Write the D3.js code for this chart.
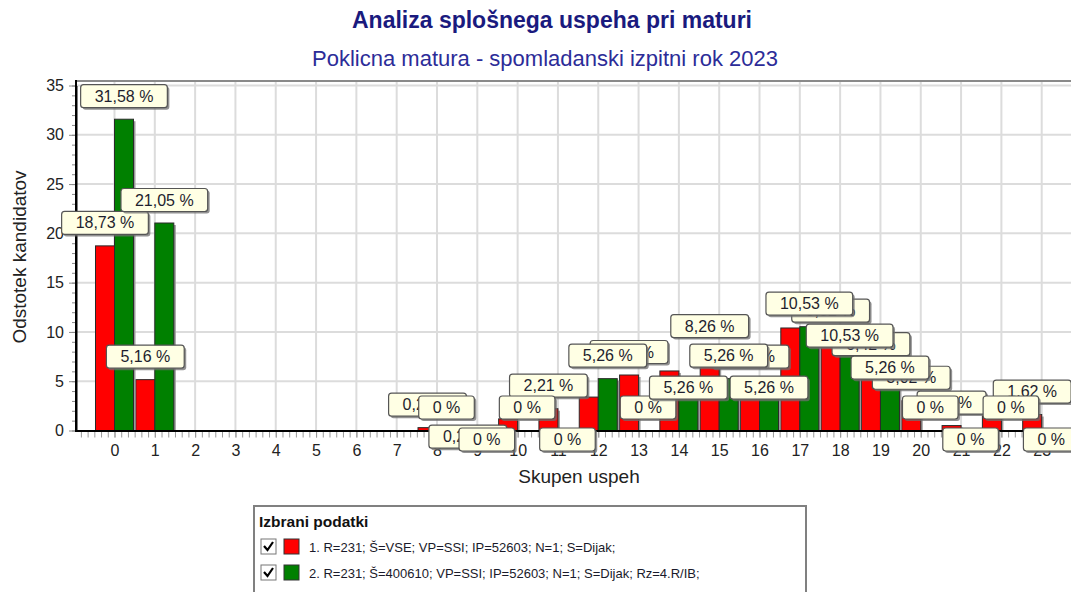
<!DOCTYPE html>
<html><head><meta charset="utf-8">
<script src="https://cdn.jsdelivr.net/npm/d3@7/dist/d3.min.js"></script>
<style>
body{margin:0;background:#fff;}
svg text{font-family:"Liberation Sans",Arial,sans-serif;}
</style>
</head><body>
<svg id="chart" width="1071" height="592"></svg>
<script>
// ---------- data ----------
const titleText = "Analiza splošnega uspeha pri maturi";
const subtitleText = "Poklicna matura - spomladanski izpitni rok 2023";
const xAxisTitle = "Skupen uspeh";
const yAxisTitle = "Odstotek kandidatov";
const legendTitle = "Izbrani podatki";
const categories = [0,1,2,3,4,5,6,7,8,9,10,11,12,13,14,15,16,17,18,19,20,21,22,23];
const yTickValues = [0,5,10,15,20,25,30,35];
const seriesNames = [
  "1. R=231; Š=VSE; VP=SSI; IP=52603; N=1; S=Dijak;",
  "2. R=231; Š=400610; VP=SSI; IP=52603; N=1; S=Dijak; Rz=4.R/IB;"
];
const series1Values = [18.73,5.16,null,null,null,null,null,null,0.29,0.29,1.18,2.21,3.39,5.63,6.04,8.26,5.16,10.4,9.82,6.42,3.02,0.5,1.47,1.62];
const series2Values = [31.58,21.05,null,null,null,null,null,null,0,0,0,0,5.26,0,5.26,5.26,5.26,10.53,10.53,5.26,0,0,0,0];
const seriesColors = ["#ff0000","#008000"];
const seriesOverlapMode = ["hide","shift"];

// ---------- chart ----------
const svg = d3.select("#chart");
const x = d3.scaleLinear().domain([-0.955, 23.95]).range([76, 1080]);
const y = d3.scaleLinear().domain([0, 35]).range([430.5, 85.5]);
const barW = x(0.4714) - x(0);
const plotTop = 81, plotLeft = x.range()[0], plotRight = x.range()[1];

// titles
svg.append("text").attr("x", 552).attr("y", 28).attr("text-anchor","middle")
  .attr("font-size", 23).attr("font-weight","bold").attr("fill","#1a1a7e").text(titleText);
svg.append("text").attr("x", 545).attr("y", 66).attr("text-anchor","middle")
  .attr("font-size", 22).attr("fill","#2c2c98").text(subtitleText);

// grid
const grid = svg.append("g");
grid.selectAll("line.v").data(categories).join("line").attr("class","v")
  .attr("x1", d=>x(d)).attr("x2", d=>x(d)).attr("y1", plotTop+1).attr("y2", y(0))
  .attr("stroke","#dcdcdc").attr("stroke-width",2);
grid.selectAll("line.h").data(yTickValues.filter(v=>v>0)).join("line").attr("class","h")
  .attr("x1", plotLeft).attr("x2", plotRight).attr("y1", d=>y(d)).attr("y2", d=>y(d))
  .attr("stroke","#dcdcdc").attr("stroke-width",2);
svg.append("line").attr("x1", plotLeft).attr("x2", plotRight).attr("y1", plotTop).attr("y2", plotTop)
  .attr("stroke","#8a8a8a").attr("stroke-width",2);

// bars
const allSeries = [series1Values, series2Values];
allSeries.forEach((vals, si) => {
  const data = categories.map((c,i)=>({c, v: vals[i]})).filter(d=>d.v!=null && d.v>0);
  const g = svg.append("g");
  const bx = d => si===0 ? x(d.c)-barW : x(d.c);
  g.selectAll("rect.sh").data(data).join("rect").attr("class","sh")
    .attr("x", d=>bx(d)+2).attr("y", d=>y(d.v)+2).attr("width", barW).attr("height", d=>y(0)-y(d.v)-2)
    .attr("fill","#9a9a9a");
  g.selectAll("rect.b").data(data).join("rect").attr("class","b")
    .attr("x", bx).attr("y", d=>y(d.v)).attr("width", barW).attr("height", d=>y(0)-y(d.v))
    .attr("fill", seriesColors[si]).attr("stroke","#2a2a2a").attr("stroke-width",1);
});

// y axis
const yMinor = svg.append("g").attr("transform",`translate(${plotLeft},0)`)
  .call(d3.axisLeft(y).tickValues(d3.range(0,36,1)).tickSize(4).tickFormat(""));
yMinor.select(".domain").remove();
yMinor.selectAll("line").attr("stroke","#8a8a8a");
const yAx = svg.append("g").attr("transform",`translate(${plotLeft},0)`)
  .call(d3.axisLeft(y).tickValues(yTickValues).tickSize(7).tickPadding(5).tickSizeOuter(0));
yAx.select(".domain").attr("stroke","#000").attr("stroke-width",2);
yAx.selectAll("line").attr("stroke","#8a8a8a");
yAx.selectAll("text").attr("font-size",16).attr("fill","#222").attr("font-family","Liberation Sans, Arial, sans-serif");
svg.append("line").attr("x1",plotLeft).attr("x2",plotLeft).attr("y1",plotTop-1).attr("y2",y(0)+1)
  .attr("stroke","#000").attr("stroke-width",2);

// x axis
const minorX = d3.range(-5, 24*6+6).map(k=>k/6).filter(v=>v>x.domain()[0] && v<x.domain()[1]);
const xMinor = svg.append("g").attr("transform",`translate(0,${y(0)})`)
  .call(d3.axisBottom(x).tickValues(minorX).tickSize(7).tickFormat(""));
xMinor.select(".domain").remove();
xMinor.selectAll("line").attr("stroke","#9a9a9a");
const xAx = svg.append("g").attr("transform",`translate(0,${y(0)})`)
  .call(d3.axisBottom(x).tickValues(categories).tickSize(7).tickPadding(7).tickSizeOuter(0));
xAx.select(".domain").remove();
xAx.selectAll("line").attr("stroke","#9a9a9a");
xAx.selectAll("text").attr("font-size",16).attr("fill","#222").attr("font-family","Liberation Sans, Arial, sans-serif");
svg.append("line").attr("x1",plotLeft-1).attr("x2",plotRight).attr("y1",y(0)+0.5).attr("y2",y(0)+0.5)
  .attr("stroke","#000").attr("stroke-width",2);

// axis titles
svg.append("text").attr("transform",`translate(26,257) rotate(-90)`).attr("text-anchor","middle")
  .attr("font-size",19).attr("fill","#222").text(yAxisTitle);
svg.append("text").attr("x",579).attr("y",483).attr("text-anchor","middle")
  .attr("font-size",19).attr("fill","#222").text(xAxisTitle);

// value marks with anti-overlap
function fmt(v){ return (Math.round(v*100)/100).toString().replace(".", ",") + " %"; }
const measurer = svg.append("text").attr("font-size",16).attr("visibility","hidden");
function tw(s){ measurer.text(s); return measurer.node().getComputedTextLength(); }
const boxH = 23, gapX = 4;
function overlaps(a,b){ return a.x0 < b.x1+gapX && b.x0 < a.x1+gapX && a.y0 < b.y1 && b.y0 < a.y1; }
const markLayers = [];
allSeries.forEach((vals, si) => {
  const placed = [];
  categories.forEach((c,i) => {
    const v = vals[i];
    if (v == null) return;
    const cx = si===0 ? x(c)-barW/2 : x(c)+barW/2;
    const label = fmt(v);
    const w = tw(label) + 28;
    const cy = y(v) - 23;
    let box = {x0: cx-w/2, x1: cx+w/2, y0: cy-boxH/2, y1: cy+boxH/2, cx, label};
    const hits = placed.filter(p=>overlaps(p,box));
    if (hits.length) {
      if (seriesOverlapMode[si]==="hide" && v >= 1) return;
      const top = d3.max(hits, p=>p.y1) + 9;
      box = {...box, y0: top, y1: top+boxH};
      if (seriesOverlapMode[si]==="hide" && placed.some(p=>overlaps(p,box))) return;
    }
    placed.push(box);
  });
  markLayers.push(placed);
});
measurer.remove();
markLayers.forEach(placed => {
  const g = svg.append("g");
  const m = g.selectAll("g").data(placed).join("g");
  m.append("rect").attr("x",d=>d.x0+2).attr("y",d=>d.y0+2).attr("width",d=>d.x1-d.x0).attr("height",boxH)
    .attr("rx",3).attr("fill","#6e6e6e").attr("opacity",0.75);
  m.append("rect").attr("x",d=>d.x0).attr("y",d=>d.y0).attr("width",d=>d.x1-d.x0).attr("height",boxH)
    .attr("rx",3).attr("fill","#ffffe4").attr("stroke","#555").attr("stroke-width",1.2);
  m.append("text").attr("x",d=>d.cx).attr("y",d=>d.y0+boxH/2+5.5).attr("text-anchor","middle")
    .attr("font-size",16).attr("fill","#1e1e2e").text(d=>d.label);
});

// legend
const lg = svg.append("g");
lg.append("rect").attr("x",254).attr("y",506).attr("width",552).attr("height",110)
  .attr("fill","#fff").attr("stroke","#808080").attr("stroke-width",2);
lg.append("text").attr("x",259).attr("y",527).attr("font-size",15.5).attr("font-weight","bold")
  .attr("fill","#111").text(legendTitle);
seriesNames.forEach((name, i) => {
  const ry = 539 + i*26;
  lg.append("rect").attr("x",261).attr("y",ry).attr("width",15).attr("height",15)
    .attr("fill","#fff").attr("stroke","#777").attr("stroke-width",1);
  lg.append("path").attr("d",`M${264},${ry+7} L${267.5},${ry+11} L${273},${ry+3}`)
    .attr("fill","none").attr("stroke","#000").attr("stroke-width",2.2);
  lg.append("rect").attr("x",284).attr("y",ry).attr("width",15).attr("height",15)
    .attr("fill",seriesColors[i]).attr("stroke","#333").attr("stroke-width",1);
  lg.append("text").attr("x",309).attr("y",ry+13).attr("font-size",13).attr("fill","#1a1a2a").text(name);
});
</script>
</body></html>
